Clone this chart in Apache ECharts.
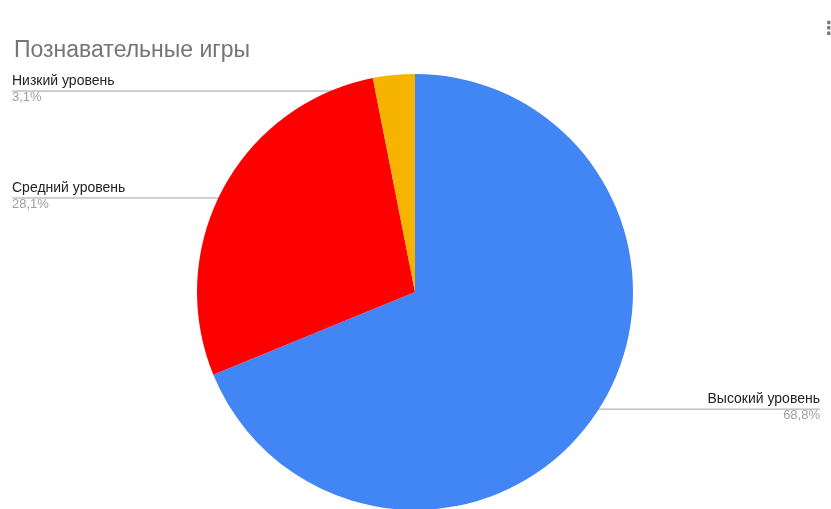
<!DOCTYPE html>
<html><head><meta charset="utf-8">
<script src="https://cdn.jsdelivr.net/npm/echarts@6/dist/echarts.min.js"></script>
<style>html,body{margin:0;padding:0;background:#fff}#c{width:831px;height:509px}</style>
</head><body><div id="c"></div>
<script>
const categories = ['Высокий уровень', 'Средний уровень', 'Низкий уровень'];
const values = [68.8, 28.1, 3.1];
const colors = ['#4285F4', '#FF0000', '#F6B400'];
const titleText = 'Познавательные игры';

const CENTER = [415, 292];
const LABEL_MARGIN_LEFT = 12;
const LABEL_MARGIN_RIGHT = 11;
const INNER = 0.94;
const LINE_SHIFT = 3;

const chart = echarts.init(document.getElementById('c'));
const W = chart.getWidth();
chart.setOption({
  animation: false,
  title: { text: titleText, left: 9, top: 34, textStyle: { fontFamily: 'Liberation Sans', fontSize: 23, fontWeight: 'normal', color: '#757575' } },
  graphic: [{ type: 'text', left: 820, top: 20, style: { text: '⋮', font: 'bold 18px DejaVu Sans', fill: '#777' } }],
  series: [{
    type: 'pie',
    center: CENTER,
    radius: 218,
    startAngle: 90,
    clockwise: true,
    data: categories.map((n, i) => ({ name: n, value: values[i], itemStyle: { color: colors[i] } })),
    label: {
      formatter: p => '{n|' + p.name + '}\n{p|' + p.value.toFixed(1).replace('.', ',') + '%}',
      rich: {
        n: { fontFamily: 'Liberation Sans', fontSize: 14, color: '#222', lineHeight: 20 },
        p: { fontFamily: 'Liberation Sans', fontSize: 13, color: '#9e9e9e', lineHeight: 12 }
      }
    },
    labelLine: { show: true, length: 10, length2: 10, lineStyle: { color: '#a0a0a0', width: 1 } },
    labelLayout: function (params) {
      const pts = params.labelLinePoints;
      if (!pts) return {};
      const edge = pts[0];
      const sx = CENTER[0] + INNER * (edge[0] - CENTER[0]);
      const sy = CENTER[1] + INNER * (edge[1] - CENTER[1]) + LINE_SHIFT;
      const isLeft = edge[0] < CENTER[0];
      const ex = isLeft ? LABEL_MARGIN_LEFT : W - LABEL_MARGIN_RIGHT;
      return {
        x: ex,
        y: sy - 20,
        align: isLeft ? 'left' : 'right',
        verticalAlign: 'top',
        labelLinePoints: [[sx, sy], [(sx + ex) / 2, sy], [ex, sy]]
      };
    }
  }]
});
</script></body></html>
